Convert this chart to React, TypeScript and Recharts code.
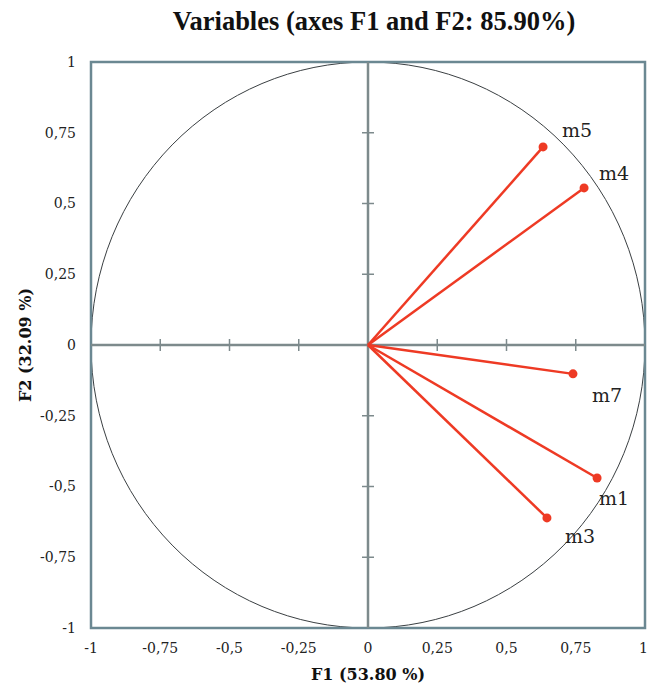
import React from "react";
import {
  ScatterChart,
  Scatter,
  XAxis,
  YAxis,
  ReferenceArea,
  ReferenceLine,
  ReferenceDot,
} from "recharts";

const variables = ["m5", "m4", "m7", "m1", "m3"];
const f1Loadings = [0.632, 0.78, 0.74, 0.827, 0.646];
const f2Loadings = [0.7, 0.555, -0.102, -0.47, -0.611];
const axisTicks = [-1, -0.75, -0.5, -0.25, 0, 0.25, 0.5, 0.75, 1];
const innerTicks = [-0.75, -0.5, -0.25, 0.25, 0.5, 0.75];

// label placement next to each point (px from the dot)
const labelOffset: Record<string, [number, number]> = {
  m5: [19, -10],
  m4: [15, -8],
  m7: [19, 28],
  m1: [2, 27],
  m3: [18, 25],
};

const RED = "#ee3a24";
const AXIS_GREY = "#7d8a8c";
const BOX = "#6b8892";
const serif = "'DejaVu Serif', serif";

const points = variables.map((name, i) => ({
  name,
  x: f1Loadings[i],
  y: f2Loadings[i],
}));

const fmt = (v: number) => String(v).replace(".", ",");

const tickStyle = { fontFamily: serif, fontSize: 14, fill: "#222" };

const BoxAndCircle = (props: any) => {
  const { x, y, width, height } = props;
  return (
    <g>
      <ellipse
        cx={x + width / 2}
        cy={y + height / 2}
        rx={width / 2}
        ry={height / 2}
        fill="none"
        stroke="#3a3f42"
        strokeWidth={1}
      />
      <rect x={x} y={y} width={width} height={height} fill="none" stroke={BOX} strokeWidth={2.5} />
    </g>
  );
};

const PointShape = (props: any) => {
  const { cx, cy, payload } = props;
  const [dx, dy] = labelOffset[payload.name] || [10, -8];
  return (
    <g>
      <circle cx={cx} cy={cy} r={4.5} fill={RED} />
      <text x={cx + dx} y={cy + dy} fontFamily={serif} fontSize={19} fill="#222">
        {payload.name}
      </text>
    </g>
  );
};

export default function App() {
  return (
    <div style={{ position: "absolute", left: 0, top: 0, width: 647, height: 690, background: "#fff" }}>
      <div
        style={{
          position: "absolute",
          left: 0,
          top: 6,
          width: 748,
          textAlign: "center",
          fontFamily: "'Liberation Serif', serif",
          fontWeight: "bold",
          fontSize: 26.5,
          color: "#111",
        }}
      >
        Variables (axes F1 and F2: 85.90%)
      </div>
      <ScatterChart
        width={647}
        height={690}
        margin={{ top: 62, right: 2, bottom: 32, left: 31 }}
      >
        <XAxis
          type="number"
          dataKey="x"
          domain={[-1, 1]}
          ticks={axisTicks}
          tickFormatter={fmt}
          axisLine={false}
          tickLine={false}
          tickSize={0}
          tickMargin={15}
          height={30}
          tick={tickStyle}
          allowDataOverflow
        />
        <YAxis
          type="number"
          dataKey="y"
          domain={[-1, 1]}
          ticks={axisTicks}
          tickFormatter={fmt}
          axisLine={false}
          tickLine={false}
          tickSize={0}
          tickMargin={15}
          width={60}
          tick={tickStyle}
          allowDataOverflow
        />
        <ReferenceArea x1={-1} x2={1} y1={-1} y2={1} shape={<BoxAndCircle />} ifOverflow="visible" />
        <ReferenceLine x={0} stroke={AXIS_GREY} strokeWidth={2.5} />
        <ReferenceLine y={0} stroke={AXIS_GREY} strokeWidth={2.5} />
        {innerTicks.map((t) => (
          <ReferenceDot
            key={"tx" + t}
            x={t}
            y={0}
            shape={(p: any) => (
              <line x1={p.cx} x2={p.cx} y1={p.cy - 6} y2={p.cy + 6} stroke={AXIS_GREY} strokeWidth={1.5} />
            )}
          />
        ))}
        {innerTicks.map((t) => (
          <ReferenceDot
            key={"ty" + t}
            x={0}
            y={t}
            shape={(p: any) => (
              <line x1={p.cx - 6} x2={p.cx + 6} y1={p.cy} y2={p.cy} stroke={AXIS_GREY} strokeWidth={1.5} />
            )}
          />
        ))}
        {points.map((p) => (
          <ReferenceLine
            key={"v" + p.name}
            segment={[
              { x: 0, y: 0 },
              { x: p.x, y: p.y },
            ]}
            stroke={RED}
            strokeWidth={2.5}
          />
        ))}
        <Scatter data={points} shape={<PointShape />} isAnimationActive={false} />
      </ScatterChart>
      <div
        style={{
          position: "absolute",
          left: 91,
          top: 665,
          width: 554,
          textAlign: "center",
          fontFamily: serif,
          fontWeight: "bold",
          fontSize: 16,
          color: "#111",
        }}
      >
        F1 (53.80 %)
      </div>
      <div
        style={{
          position: "absolute",
          left: 25,
          top: 345,
          transform: "translate(-50%, -50%) rotate(-90deg)",
          whiteSpace: "nowrap",
          fontFamily: serif,
          fontWeight: "bold",
          fontSize: 16,
          color: "#111",
        }}
      >
        F2 (32.09 %)
      </div>
    </div>
  );
}
